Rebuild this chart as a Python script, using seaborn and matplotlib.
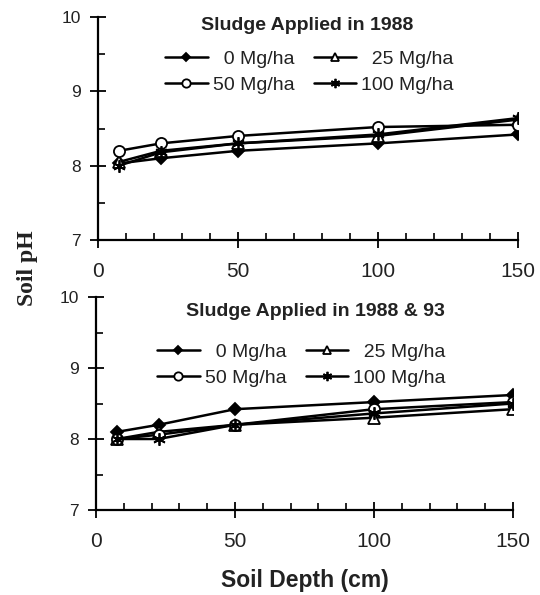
import numpy as np
import pandas as pd
import matplotlib
matplotlib.use('Agg')
import matplotlib.pyplot as plt
from matplotlib.ticker import MultipleLocator
import seaborn as sns

# %% data

depth = [7.5, 22.5, 50, 100, 150]
rates = ['0 Mg/ha', '25 Mg/ha', '50 Mg/ha', '100 Mg/ha']

# sludge applied in 1988
ph_1988_0 = [8.03, 8.1, 8.2, 8.3, 8.42]
ph_1988_25 = [8.05, 8.2, 8.3, 8.4, 8.62]
ph_1988_50 = [8.2, 8.3, 8.4, 8.52, 8.55]
ph_1988_100 = [8.0, 8.18, 8.3, 8.42, 8.64]

# sludge applied in 1988 & 93
ph_8893_0 = [8.1, 8.2, 8.42, 8.52, 8.62]
ph_8893_25 = [8.0, 8.1, 8.2, 8.3, 8.42]
ph_8893_50 = [8.0, 8.06, 8.2, 8.42, 8.52]
ph_8893_100 = [8.0, 8.0, 8.2, 8.36, 8.5]

# %% styles

sns.set_style('white')
plt.rcParams['font.family'] = ['Liberation Sans', 'DejaVu Sans']
ink = '#222222'

marker_style = {
    '0 Mg/ha': dict(marker='D', mfc='black', ms=6),
    '25 Mg/ha': dict(marker='^', mfc='white', ms=8),
    '50 Mg/ha': dict(marker='o', mfc='white', ms=8),
    '100 Mg/ha': dict(marker=(6, 2, 0), mfc='black', ms=9),
}

fig = plt.figure(figsize=(5.4, 5.95), dpi=100)
ax1 = fig.add_axes([98 / 540, 1 - 240 / 595, 420 / 540, 223 / 595])
ax2 = fig.add_axes([96 / 540, 1 - 510 / 595, 417 / 540, 213 / 595])


def pad_label(lab, width):
    # two spaces are one digit wide, so the numbers line up on the right
    digits = len(lab.split()[0])
    return '  ' * (width - digits) + lab


def draw_panel(ax, series, title, title_xy, legend_xy):
    for rate, vals in zip(rates, series):
        df = pd.DataFrame({'depth': depth, 'ph': vals})
        sns.lineplot(data=df, x='depth', y='ph', color='black', lw=1.8,
                     mec='black', mew=1.3, label=rate, ax=ax,
                     **marker_style[rate])
    ax.set_xlim(0, 150)
    ax.set_ylim(7, 10)
    ax.set_xlabel('')
    ax.set_ylabel('')
    ax.set_xticks([0, 50, 100, 150])
    ax.set_yticks([7, 8, 9, 10])
    ax.xaxis.set_minor_locator(MultipleLocator(10))
    ax.yaxis.set_minor_locator(MultipleLocator(0.5))
    ax.tick_params(which='both', bottom=True, left=True)
    ax.tick_params(which='major', direction='inout', length=11, width=1.3,
                   color='black', labelcolor=ink)
    ax.tick_params(which='minor', direction='in', length=5, width=1.2,
                   color='black')
    ax.tick_params(axis='x', which='major', pad=10, labelsize=15)
    ax.tick_params(axis='y', which='major', pad=7, labelsize=12.5)
    for side in ['top', 'right']:
        ax.spines[side].set_visible(False)
    for side in ['left', 'bottom']:
        ax.spines[side].set_color('black')
        ax.spines[side].set_linewidth(1.6)

    handles, labels = ax.get_legend_handles_labels()
    order = [0, 2, 1, 3]
    col_width = [2, 2, 3, 3]
    leg = ax.legend([handles[i] for i in order],
                    [pad_label(labels[i], w) for i, w in zip(order, col_width)],
                    ncol=2, loc='upper left', bbox_to_anchor=legend_xy,
                    bbox_transform=fig.transFigure,
                    frameon=False, fontsize=14,
                    handlelength=2.2, handletextpad=0.25, columnspacing=1.0,
                    labelspacing=0.45, markerscale=0.75, borderpad=0,
                    borderaxespad=0)
    for t in leg.get_texts():
        t.set_color(ink)
    fig.text(title_xy[0], title_xy[1], title, ha='center', va='center',
             fontsize=14, fontweight='bold', color=ink)


draw_panel(ax1, [ph_1988_0, ph_1988_25, ph_1988_50, ph_1988_100],
           'Sludge Applied in 1988',
           (307 / 540, 1 - 25 / 595), (165 / 540, 1 - 50 / 595))
draw_panel(ax2, [ph_8893_0, ph_8893_25, ph_8893_50, ph_8893_100],
           'Sludge Applied in 1988 & 93',
           (315 / 540, 1 - 312 / 595), (157 / 540, 1 - 343 / 595))

fig.text(28 / 540, 1 - 268 / 595, 'Soil pH', rotation=90, ha='center',
         va='center', fontsize=17, fontweight='bold',
         family='Liberation Serif', color=ink)
fig.text(305 / 540, 1 - 581 / 595, 'Soil Depth (cm)', ha='center',
         va='center', fontsize=16.5, fontweight='bold', color=ink)

fig.savefig('out.png', dpi=100)
